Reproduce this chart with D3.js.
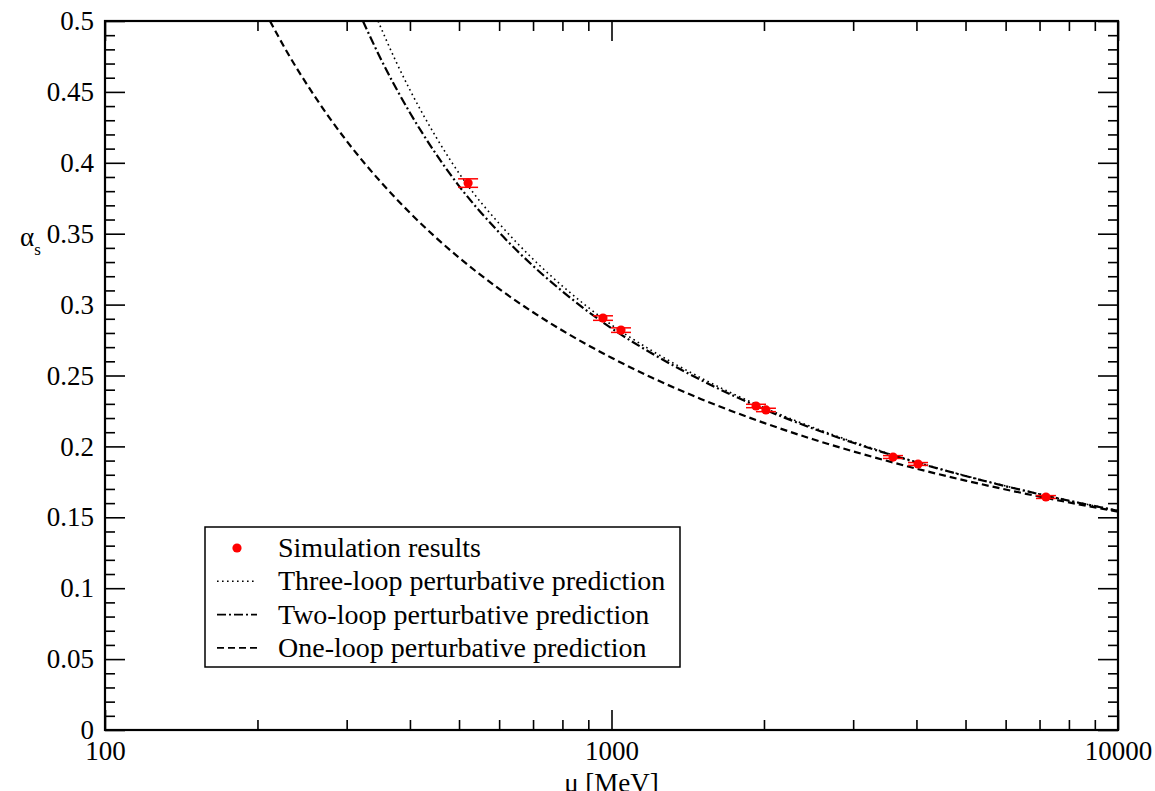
<!DOCTYPE html>
<html>
<head>
<meta charset="utf-8">
<script src="https://cdn.jsdelivr.net/npm/d3@7"></script>
<style>
  body { margin: 0; background: #fff; }
  svg { display: block; }
  text { font-family: "Liberation Serif", "DejaVu Serif", serif; fill: #000; }
</style>
</head>
<body>
<div id="chart"></div>
<script>
const width = 1155,
    height = 791

const margin = { left: 105, top: 21, right: 37, bottom: 61 }

// simulation results (mu in MeV, alpha_s, error)
const simMu = [521, 962, 1044, 1929, 2018, 3596, 4029, 7207]
const simAlpha = [0.3857, 0.2905, 0.2820, 0.2285, 0.2257, 0.1925, 0.1876, 0.1643]
const simErr = [0.003, 0.0016, 0.0016, 0.0012, 0.0012, 0.001, 0.001, 0.001]

// perturbative curves
const threeLoopMu = [346, 375, 400, 450, 516, 600, 700, 800, 1000, 1200, 1500, 2000, 2500, 3000, 4000, 5000, 6000, 7000, 8000, 10000]
const threeLoopAlpha = [0.5, 0.4718, 0.4514, 0.4184, 0.3857, 0.3572, 0.3321, 0.3131, 0.2857, 0.2676, 0.2484, 0.2273, 0.2134, 0.2032, 0.1890, 0.1793, 0.1721, 0.1664, 0.1618, 0.1547]

const twoLoopMu = [323, 350, 400, 450, 495, 600, 700, 800, 1000, 1200, 1500, 2000, 2500, 3000, 4000, 5000, 6000, 7000, 8000, 10000]
const twoLoopAlpha = [0.5, 0.4736, 0.4353, 0.4064, 0.3857, 0.3509, 0.3273, 0.3093, 0.2833, 0.2657, 0.2469, 0.2262, 0.2126, 0.2026, 0.1887, 0.1791, 0.1719, 0.1663, 0.1617, 0.1546]

const oneLoopMu = [211.7, 230, 250, 275, 300, 350, 400, 500, 600, 700, 800, 1000, 1200, 1500, 2000, 2500, 3000, 4000, 5000, 6000, 7000, 8000, 10000]
const oneLoopAlpha = [0.5, 0.4767, 0.4557, 0.4337, 0.4154, 0.3866, 0.3647, 0.3331, 0.3111, 0.2946, 0.2817, 0.2625, 0.2486, 0.2335, 0.2166, 0.2050, 0.1965, 0.1843, 0.1759, 0.1696, 0.1646, 0.1605, 0.1540]

const xMajor = [100, 1000, 10000]
const yMajor = [0, 0.05, 0.1, 0.15, 0.2, 0.25, 0.3, 0.35, 0.4, 0.45, 0.5]

const legendLabels = [
    "Simulation results",
    "Three-loop perturbative prediction",
    "Two-loop perturbative prediction",
    "One-loop perturbative prediction"
]

const colors = {
    red: "#ff0000",
    black: "#000"
}

const x0 = margin.left, x1 = width - margin.right
const y0 = height - margin.bottom, y1 = margin.top

const x = d3.scaleLog().domain([100, 10000]).range([x0, x1])
const y = d3.scaleLinear().domain([0, 0.5]).range([y0, y1])

const svg = d3.select("#chart")
    .append("svg")
        .attr("width", width)
        .attr("height", height)

svg.append("defs").append("clipPath")
    .attr("id", "clip")
    .append("rect")
        .attr("x", x0).attr("y", y1)
        .attr("width", x1 - x0).attr("height", y0 - y1)

// ticks on all four sides, pointing inward
const xMinor = x.ticks().filter(d => !xMajor.includes(d))
const yMinor = d3.range(0, 51).map(d => d / 100).filter(d => Math.round(d * 100) % 5 !== 0)

const fontSize = 27
const fmtY = d => d3.format("")(+d.toFixed(2))

function tickGroup(axis, transform) {
    const g = svg.append("g").attr("transform", transform).call(axis)
    g.select(".domain").remove()
    g.selectAll(".tick line").attr("stroke", colors.black).attr("stroke-width", 1.6)
    g.selectAll("text").style("font-size", fontSize + "px").style("font-family", "Liberation Serif, serif")
    return g
}

tickGroup(d3.axisBottom(x).tickValues(xMajor).tickSize(-20).tickPadding(11).tickFormat(d3.format("d")), `translate(0,${y0})`)
tickGroup(d3.axisBottom(x).tickValues(xMinor).tickSize(-10).tickFormat(""), `translate(0,${y0})`)
tickGroup(d3.axisTop(x).tickValues(xMajor).tickSize(-20).tickFormat(""), `translate(0,${y1})`)
tickGroup(d3.axisTop(x).tickValues(xMinor).tickSize(-10).tickFormat(""), `translate(0,${y1})`)

tickGroup(d3.axisLeft(y).tickValues(yMajor).tickSize(-20).tickPadding(11).tickFormat(fmtY), `translate(${x0},0)`)
tickGroup(d3.axisLeft(y).tickValues(yMinor).tickSize(-10).tickFormat(""), `translate(${x0},0)`)
tickGroup(d3.axisRight(y).tickValues(yMajor).tickSize(-20).tickFormat(""), `translate(${x1},0)`)
tickGroup(d3.axisRight(y).tickValues(yMinor).tickSize(-10).tickFormat(""), `translate(${x1},0)`)

// frame
svg.append("rect")
    .attr("x", x0).attr("y", y1)
    .attr("width", x1 - x0).attr("height", y0 - y1)
    .attr("fill", "none")
    .attr("stroke", colors.black)
    .attr("stroke-width", 2.2)

// curves
const line = d3.line()
    .x(d => x(d[0]))
    .y(d => y(d[1]))
    .curve(d3.curveMonotoneX)

const curves = [
    { mu: threeLoopMu, alpha: threeLoopAlpha, dash: "1.6,3.4", w: 1.6 },
    { mu: twoLoopMu, alpha: twoLoopAlpha, dash: "9,3,2,3", w: 2.2 },
    { mu: oneLoopMu, alpha: oneLoopAlpha, dash: "7,4", w: 2.2 }
]

const plot = svg.append("g").attr("clip-path", "url(#clip)")

plot.selectAll("path.curve")
    .data(curves)
    .enter()
    .append("path")
        .attr("class", "curve")
        .attr("d", c => line(d3.zip(c.mu, c.alpha)))
        .attr("fill", "none")
        .attr("stroke", colors.black)
        .attr("stroke-width", c => c.w)
        .attr("stroke-dasharray", c => c.dash)

// simulation points with error bars
const sim = d3.zip(simMu, simAlpha, simErr)
const capW = 10

const pts = plot.selectAll("g.pt")
    .data(sim)
    .enter()
    .append("g")
        .attr("class", "pt")

pts.append("line")
    .attr("x1", d => x(d[0])).attr("x2", d => x(d[0]))
    .attr("y1", d => y(d[1] - d[2])).attr("y2", d => y(d[1] + d[2]))
    .attr("stroke", colors.red).attr("stroke-width", 1.5)
pts.append("line")
    .attr("x1", d => x(d[0]) - capW).attr("x2", d => x(d[0]) + capW)
    .attr("y1", d => y(d[1] + d[2])).attr("y2", d => y(d[1] + d[2]))
    .attr("stroke", colors.red).attr("stroke-width", 1.5)
pts.append("line")
    .attr("x1", d => x(d[0]) - capW).attr("x2", d => x(d[0]) + capW)
    .attr("y1", d => y(d[1] - d[2])).attr("y2", d => y(d[1] - d[2]))
    .attr("stroke", colors.red).attr("stroke-width", 1.5)
pts.append("circle")
    .attr("cx", d => x(d[0]))
    .attr("cy", d => y(d[1]))
    .attr("r", 4.6)
    .attr("fill", colors.red)

// axis titles
svg.append("text")
    .attr("x", (x0 + x1) / 2)
    .attr("y", 792)
    .attr("text-anchor", "middle")
    .style("font-size", fontSize + "px")
    .text("\u03bc [MeV]")

const yl = svg.append("text")
    .attr("x", 20)
    .attr("y", 246)
    .style("font-size", fontSize + "px")
yl.append("tspan").text("\u03b1")
yl.append("tspan").attr("dy", 9).style("font-size", "17px").text("s")

// legend
const legend = svg.append("g")
legend.append("rect")
    .attr("x", 205).attr("y", 527)
    .attr("width", 475).attr("height", 140)
    .attr("fill", "#fff")
    .attr("stroke", colors.black)
    .attr("stroke-width", 1.5)

const rowY = i => 548 + i * 33.3

legend.selectAll("text.lab")
    .data(legendLabels)
    .enter()
    .append("text")
        .attr("class", "lab")
        .attr("x", 278)
        .attr("y", (d, i) => rowY(i) + 9)
        .style("font-size", "28px")
        .text(d => d)

legend.append("circle")
    .attr("cx", 237).attr("cy", rowY(0))
    .attr("r", 4.6)
    .attr("fill", colors.red)

legend.selectAll("line.sample")
    .data(curves)
    .enter()
    .append("line")
        .attr("class", "sample")
        .attr("x1", 217).attr("x2", 257)
        .attr("y1", (d, i) => rowY(i + 1)).attr("y2", (d, i) => rowY(i + 1))
        .attr("stroke", colors.black)
        .attr("stroke-width", d => Math.min(d.w, 1.6))
        .attr("stroke-dasharray", d => d.dash)
</script>
</body>
</html>
